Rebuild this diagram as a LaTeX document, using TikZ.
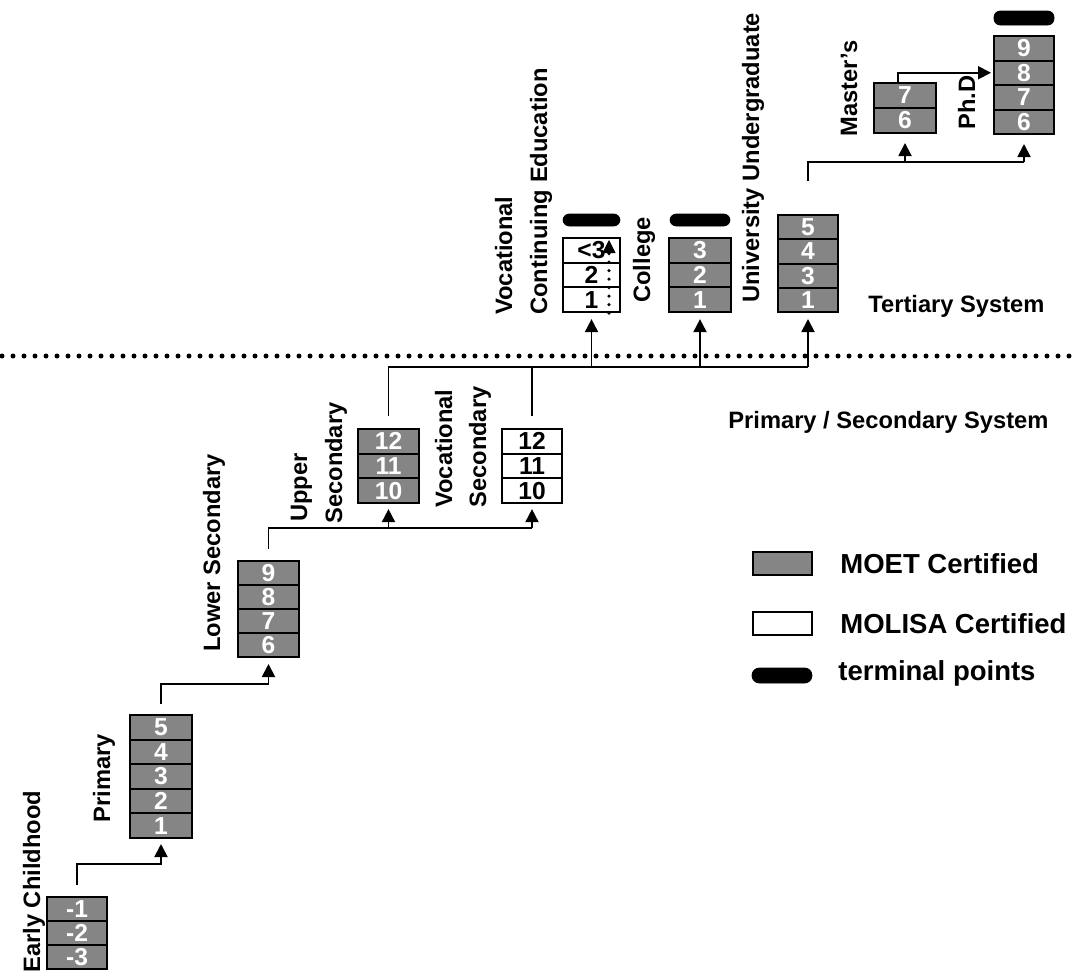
\documentclass[tikz,border=0pt]{standalone}
\usepackage{fontspec}
\setmainfont{Liberation Sans}
\usetikzlibrary{arrows.meta}
\definecolor{moetgray}{gray}{0.52}
\begin{document}
\begin{tikzpicture}[x=0.5pt,y=-0.5pt,
  lbl/.style={font=\fontsize{11.85pt}{14pt}\selectfont\bfseries, inner sep=0pt},
  vlbl/.style={lbl, rotate=90, anchor=base west},
  hlbl/.style={lbl, anchor=base west},
  leg/.style={font=\fontsize{13.75pt}{16pt}\selectfont\bfseries, inner sep=0pt, anchor=base west},
  cellbox/.style={draw=black, line width=1pt, inner sep=0pt, font=\fontsize{12.3pt}{14pt}\selectfont\bfseries},
  moet/.style={cellbox, fill=moetgray, text=white},
  molisa/.style={cellbox, fill=white, text=black},
  pill/.style={fill=black, draw=black, inner sep=0pt, rounded corners=3.2pt},
  conn/.style={draw=black, line width=0.95pt},
  arr/.style={-{Triangle[length=6.5pt,width=6.5pt]}},
  sepline/.style={line width=2.5pt, dash pattern=on 0pt off 5.5pt, line cap=round},
  vdots/.style={line width=1.8pt, dash pattern=on 0pt off 4.25pt, line cap=round}
]
\useasboundingbox (0,0) rectangle (1076,975);

% separator
\coordinate (dl) at (2,356);
\coordinate (dr) at (1076,356);
\draw[sepline] (dl) -- (dr);

% stacks
\foreach \t [count=\i] in {-1,-2,-3}
  \node[moet, minimum width=30pt, minimum height=12pt] (ec\i) at (77,{897+12+(\i-1)*24}) {\t};
\foreach \t [count=\i] in {5,4,3,2,1}
  \node[moet, minimum width=31pt, minimum height=12.3pt] (pr\i) at (161,{715+12.3+(\i-1)*24.6}) {\t};
\foreach \t [count=\i] in {9,8,7,6}
  \node[moet, minimum width=30.5pt, minimum height=12pt] (ls\i) at (268.5,{561+12+(\i-1)*24}) {\t};
\foreach \t [count=\i] in {12,11,10}
  \node[moet, minimum width=30.5pt, minimum height=12.35pt] (us\i) at (388.5,{429+12.35+(\i-1)*24.7}) {\t};
\foreach \t [count=\i] in {12,11,10}
  \node[molisa, minimum width=30pt, minimum height=12.35pt] (vs\i) at (532,{429+12.35+(\i-1)*24.7}) {\t};
\foreach \t [count=\i] in {<3,2,1}
  \node[molisa, minimum width=28.5pt, minimum height=12.35pt] (vce\i) at (591.5,{238+12.35+(\i-1)*24.7}) {\t};
\foreach \t [count=\i] in {3,2,1}
  \node[moet, minimum width=31pt, minimum height=12.35pt] (col\i) at (700,{238+12.35+(\i-1)*24.7}) {\t};
\foreach \t [count=\i] in {5,4,3,1}
  \node[moet, minimum width=30pt, minimum height=12.125pt] (uni\i) at (808,{215+12.125+(\i-1)*24.25}) {\t};
\foreach \t [count=\i] in {7,6}
  \node[moet, minimum width=31pt, minimum height=12.5pt] (ms\i) at (905,{83+12.5+(\i-1)*25}) {\t};
\foreach \t [count=\i] in {9,8,7,6}
  \node[moet, minimum width=30pt, minimum height=12.25pt] (phd\i) at (1024,{36+12.25+(\i-1)*24.5}) {\t};

% terminal points
\node[pill, minimum width=28.5pt, minimum height=6pt] (tvce) at (591.5,220) {};
\node[pill, minimum width=30pt, minimum height=6pt] (tcol) at (700,220) {};
\node[pill, minimum width=30pt, minimum height=7pt] (tphd) at (1024,18) {};

% dotted arrow inside vocational continuing education
\draw[vdots] ([xshift=8.75pt]vce3.south) -- ([xshift=8.75pt,yshift=-7pt]vce1.north);
\draw[arr] ([xshift=8.75pt,yshift=-7pt]vce1.north) -- ([xshift=8.75pt,yshift=-1.5pt]vce1.north);

% labels
\node[vlbl] (lec) at (40,973) {Early Childhood};
\node[vlbl] (lpr) at (110,823) {Primary};
\node[vlbl] (lls) at (220,652) {Lower Secondary};
\node[vlbl] (lus1) at (307,522) {Upper};
\node[vlbl] (lus2) at (342,524) {Secondary};
\node[vlbl] (lvs1) at (452,508) {Vocational};
\node[vlbl] (lvs2) at (486,508) {Secondary};
\node[vlbl] (lvce1) at (512,315) {Vocational};
\node[vlbl] (lvce2) at (547,315) {Continuing Education};
\node[vlbl] (lcol) at (650,303) {College};
\node[vlbl] (luni) at (759,303) {University Undergraduate};
\node[vlbl] (lms) at (857,137) {Master’s};
\node[vlbl] (lphd) at (975,130) {Ph.D};
\node[hlbl] (lter) at (868,312) {Tertiary System};
\node[hlbl] (lps) at (728,428) {Primary / Secondary System};

% connectors
\coordinate (h1) at (0,864);
\draw[conn,arr,shorten <=5.5pt,shorten >=2.5pt] (ec1.north) |- (h1 -| pr5.south) -- (pr5.south);
\coordinate (h2) at (0,684);
\draw[conn,arr,shorten <=5pt,shorten >=3pt] (pr1.north) |- (h2 -| ls4.south) -- (ls4.south);
\coordinate (h3) at (0,528);
\draw[conn,shorten <=5.5pt] (ls1.north) |- (h3 -| vs3.south);
\draw[conn,arr,shorten >=2.5pt] (h3 -| us3.south) -- (us3.south);
\draw[conn,arr,shorten >=2.5pt] (h3 -| vs3.south) -- (vs3.south);
\coordinate (h4) at (0,367);
\draw[conn,shorten <=6pt] (us1.north) |- (h4 -| uni4.south);
\draw[conn,shorten <=6pt] (vs1.north) -- (vs1.north |- h4);
\draw[conn,arr,shorten >=3pt] (h4 -| vce3.south) -- (vce3.south);
\draw[conn,arr,shorten >=3pt] (h4 -| col3.south) -- (col3.south);
\draw[conn,arr,shorten >=3pt] (h4 -| uni4.south) -- (uni4.south);
\coordinate (h5) at (0,162);
\draw[conn,shorten <=16.5pt] (uni1.north) |- (h5 -| phd4.south);
\draw[conn,arr,shorten >=4.5pt] (h5 -| ms2.south) -- (ms2.south);
\draw[conn,arr,shorten >=4.5pt] (h5 -| phd4.south) -- (phd4.south);
\draw[conn,arr,shorten >=1pt] ([xshift=-3.5pt]ms1.north) |- (phd2.west);

% legend
\node[moet, minimum width=29.5pt, minimum height=11.5pt] (kmoet) at (782.5,563.5) {};
\node[molisa, minimum width=29.5pt, minimum height=11.5pt] (kmol) at (782.5,623.5) {};
\node[pill, minimum width=30pt, minimum height=7.5pt, rounded corners=3.7pt] (kterm) at (782,675.5) {};
\node[leg] (tmoet) at (840,573) {MOET Certified};
\node[leg] (tmol) at (840,633) {MOLISA Certified};
\node[leg] (tterm) at (838,680) {terminal points};
\end{tikzpicture}
\end{document}
